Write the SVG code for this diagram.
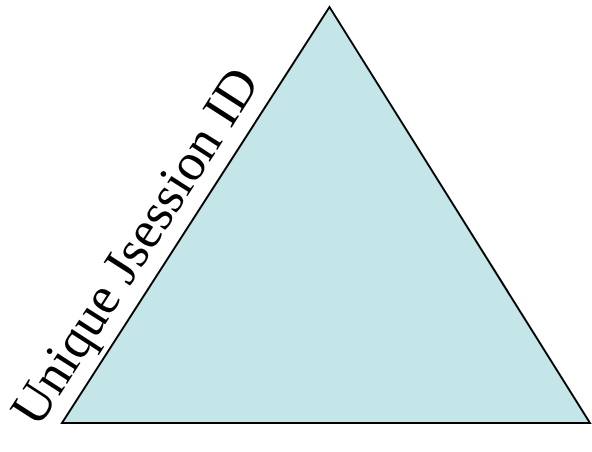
<svg xmlns="http://www.w3.org/2000/svg" width="592" height="452" viewBox="0 0 592 452">
<style>
.tri{fill:#C4E6E8;stroke:#000;stroke-width:2;stroke-linejoin:miter}
.lbl{font-family:"Liberation Serif","Times New Roman",serif;font-size:53px;fill:#000}
</style>
<rect width="592" height="452" fill="#fff"/>
<g id="triangle">
<polygon class="tri" points="329.5,7 62,423 590,423"/>
</g>
<g id="label">
<text class="lbl" transform="translate(38,429) rotate(-57.3)">Unique Jsession ID</text>
</g>
</svg>
